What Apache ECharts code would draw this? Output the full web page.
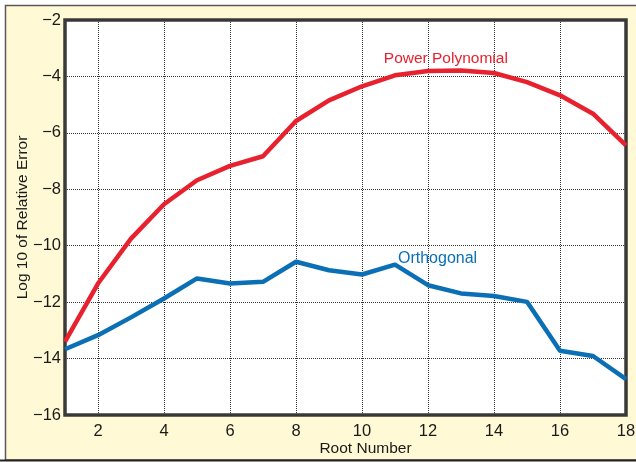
<!DOCTYPE html>
<html>
<head>
<meta charset="utf-8">
<script src="https://cdn.jsdelivr.net/npm/echarts@6/dist/echarts.min.js"></script>
<style>
html,body{margin:0;padding:0;background:#ffffff;}
#chart{width:636px;height:462px;}
</style>
</head>
<body>
<div id="chart"></div>
<script>
// Data
var rootNumbers = [1,2,3,4,5,6,7,8,9,10,11,12,13,14,15,16,17,18];
var powerPolynomial = [-13.4,-11.34,-9.75,-8.53,-7.68,-7.17,-6.83,-5.58,-4.85,-4.35,-3.96,-3.81,-3.79,-3.88,-4.2,-4.67,-5.32,-6.44];
var orthogonal = [-13.67,-13.17,-12.54,-11.87,-11.16,-11.34,-11.28,-10.57,-10.87,-11.02,-10.67,-11.4,-11.69,-11.78,-11.99,-13.72,-13.91,-14.73];
var xTickLabels = [2,4,6,8,10,12,14,16,18];
var seriesNames = ['Power Polynomial','Orthogonal'];
var labelCoords = [[12.54,-3.36],[12.29,-10.44]];

var FONT = "'Liberation Sans', Arial, Helvetica, sans-serif";
var RED = '#e8212e';
var BLUE = '#0a6fb5';

function pairs(xs, ys){ return xs.map(function(x,i){ return [x, ys[i]]; }); }

var chart = echarts.init(document.getElementById('chart'), null, {renderer:'canvas'});
chart.setOption({
  animation:false,
  backgroundColor:'#ffffff',
  textStyle:{fontFamily:FONT},
  graphic:[{
    type:'rect', z:-10, silent:true,
    shape:{x:5.5, y:5.5, width:640, height:454.5},
    style:{fill:'#fff9d6', stroke:'#5a5a5a', lineWidth:1.5}
  },{
    type:'rect', z:-9, silent:true,
    shape:{x:0, y:459.5, width:636, height:2},
    style:{fill:'#222222'}
  }],
  grid:{left:65, right:10, top:20, bottom:47, outerBoundsMode:'none', containLabel:false,
    show:true, backgroundColor:'#ffffff', borderColor:'#3a3a3a', borderWidth:3.5},
  xAxis:{
    type:'value', min:1, max:18,
    name:'Root Number', nameLocation:'middle', nameGap:26, nameMoveOverlap:false,
    nameTextStyle:{fontSize:15.5, color:'#1a1a1a', fontFamily:FONT, padding:[0,0,0,40]},
    axisLine:{show:false},
    axisTick:{show:false, customValues:xTickLabels},
    axisLabel:{customValues:xTickLabels, fontSize:16.5, color:'#1a1a1a', margin:8, fontFamily:FONT},
    splitLine:{show:true, lineStyle:{color:'#333333', type:'dotted', width:1}}
  },
  yAxis:{
    type:'value', min:-16, max:-2, interval:2,
    name:'Log 10 of Relative Error', nameLocation:'middle', nameGap:34, nameMoveOverlap:false,
    nameTextStyle:{fontSize:15.5, color:'#1a1a1a', fontFamily:FONT},
    axisLine:{show:false},
    axisTick:{show:false},
    axisLabel:{fontSize:16.5, color:'#1a1a1a', margin:4, fontFamily:FONT,
      formatter:function(v){ return String(v).replace('-', '\u2212'); }},
    splitLine:{show:true, lineStyle:{color:'#333333', type:'dotted', width:1}}
  },
  series:[{
    name:seriesNames[0], type:'line', data:pairs(rootNumbers, powerPolynomial),
    showSymbol:false, symbol:'none',
    lineStyle:{color:RED, width:4.5}, itemStyle:{color:RED},
    markPoint:{symbol:'circle', symbolSize:1, itemStyle:{color:'rgba(0,0,0,0)'},
      label:{show:true, position:'inside', color:RED, fontSize:15.5, fontFamily:FONT, formatter:seriesNames[0]},
      data:[{coord:labelCoords[0]}]}
  },{
    name:seriesNames[1], type:'line', data:pairs(rootNumbers, orthogonal),
    showSymbol:false, symbol:'none',
    lineStyle:{color:BLUE, width:4.5}, itemStyle:{color:BLUE},
    markPoint:{symbol:'circle', symbolSize:1, itemStyle:{color:'rgba(0,0,0,0)'},
      label:{show:true, position:'inside', color:BLUE, fontSize:16, fontFamily:FONT, formatter:seriesNames[1]},
      data:[{coord:labelCoords[1]}]}
  }]
});
</script>
</body>
</html>
